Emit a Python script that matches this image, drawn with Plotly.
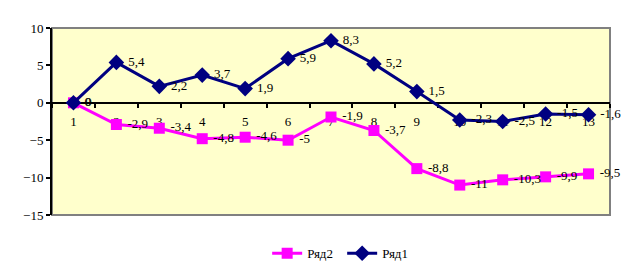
import plotly.graph_objects as go

categories = [str(i) for i in range(1, 14)]
ryad1 = [0, 5.4, 2.2, 3.7, 1.9, 5.9, 8.3, 5.2, 1.5, -2.3, -2.5, -1.5, -1.6]
ryad2 = [0, -2.9, -3.4, -4.8, -4.6, -5, -1.9, -3.7, -8.8, -11, -10.3, -9.9, -9.5]
y_ticks = [10, 5, 0, -5, -10, -15]

def lab(v):
    return ("%g" % v).replace(".", ",")

font = dict(family="Liberation Serif, Times New Roman, serif", size=13, color="black")

fig = go.Figure()
fig.add_trace(go.Scatter(
    x=categories, y=ryad2, name="Ряд2", mode="lines+markers+text",
    line=dict(color="#FF00FF", width=3),
    marker=dict(symbol="square", size=11, color="#FF00FF"),
    text=[" " + lab(v) for v in ryad2], textposition="middle right",
    textfont=font, cliponaxis=False,
))
fig.add_trace(go.Scatter(
    x=categories, y=ryad1, name="Ряд1", mode="lines+markers+text",
    line=dict(color="#000080", width=3),
    marker=dict(symbol="diamond", size=12, color="#000080"),
    text=[" " + lab(v) for v in ryad1], textposition="middle right",
    textfont=font, cliponaxis=False,
))

zero_pos = (0 - min(y_ticks)) / (max(y_ticks) - min(y_ticks))

fig.update_layout(
    width=627, height=272,
    margin=dict(l=52, r=17, t=28, b=57, autoexpand=False),
    paper_bgcolor="white", plot_bgcolor="#FFFFCC",
    font=font,
    showlegend=True,
    legend=dict(orientation="h", x=0.52, xanchor="center", y=-0.205, yanchor="middle",
                font=font, itemwidth=30, tracegroupgap=0,
                entrywidth=30, entrywidthmode="pixels"),
    xaxis=dict(
        type="category", anchor="free", position=zero_pos, automargin=False,
        showline=True, linecolor="black", linewidth=2,
        ticks="outside", ticklen=4, tickwidth=2, tickcolor="black",
        tickson="boundaries", showgrid=False, zeroline=False,
        tickfont=font, ticklabelstandoff=7, layer="below traces",
        range=[-0.5, 12.5],
    ),
    yaxis=dict(
        range=[-15, 10], tickvals=y_ticks, showgrid=False, zeroline=False,
        automargin=False,
        showline=True, linecolor="black", linewidth=2,
        ticks="outside", ticklen=4, tickwidth=2, tickcolor="black",
        tickfont=font,
    ),
    shapes=[
        dict(type="rect", xref="paper", yref="paper", x0=0, x1=1, y0=0, y1=1,
             line=dict(color="#808080", width=2), layer="below"),
    ],
)

fig.write_html("out.html", config={"displayModeBar": False},
               post_script="document.body.style.margin='0';")
